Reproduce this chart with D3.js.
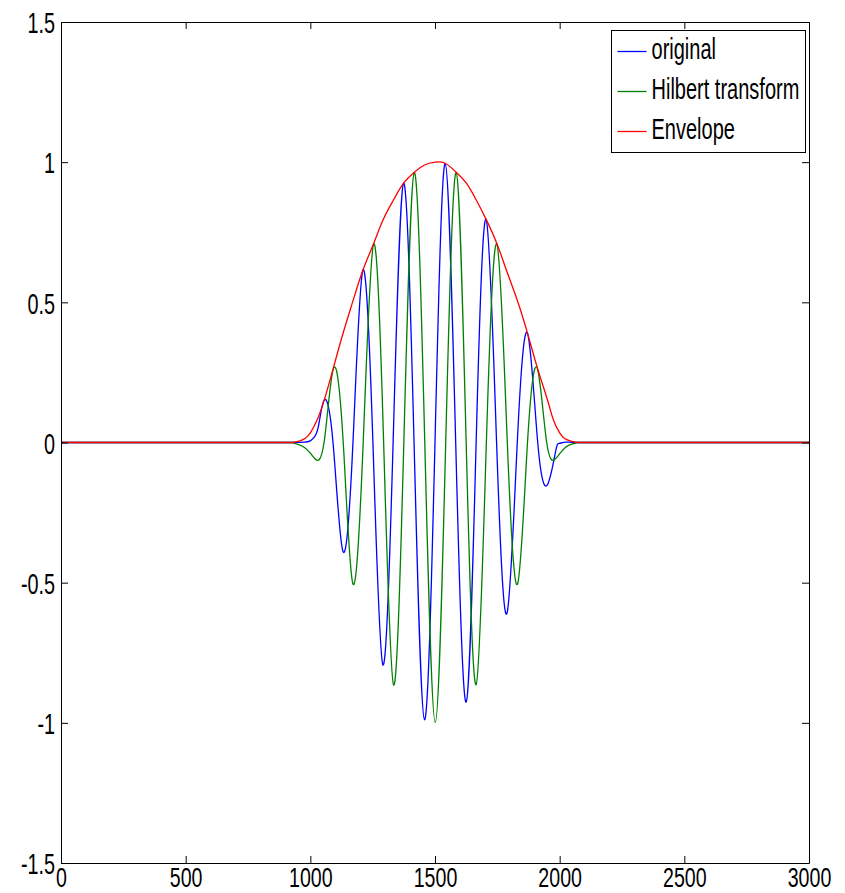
<!DOCTYPE html>
<html>
<head>
<meta charset="utf-8">
<script src="https://cdn.jsdelivr.net/npm/d3@7"></script>
<style>
  body { margin: 0; background: #fff; }
  svg { display: block; }
</style>
</head>
<body>
<svg id="chart" width="845" height="893"></svg>
<script>
// Axis ticks and their labels
const xTicks = [0, 500, 1000, 1500, 2000, 2500, 3000];
const xTickLabels = ["0", "500", "1000", "1500", "2000", "2500", "3000"];
const yTicks = [-1.5, -1, -0.5, 0, 0.5, 1, 1.5];
const yTickLabels = ["-1.5", "-1", "-0.5", "0", "0.5", "1", "1.5"];

const seriesNames = ["original", "Hilbert transform", "Envelope"];
const seriesColors = ["#0000ff", "#008000", "#ff0000"];

// Windowed burst (active part; zero elsewhere): [sample, value]
const original = [
  [930, 0], [975, 0.001], [1000, 0.006], [1015, 0.018], [1033, 0.06],
  [1056, 0.152], [1091, 0], [1131, -0.389], [1171, 0],
  [1211, 0.615], [1251, 0], [1291, -0.793], [1332, 0], [1374, 0.925],
  [1416, 0], [1458, -0.989], [1500, 0], [1541, 0.995], [1583, 0],
  [1625, -0.926], [1665, 0], [1705, 0.796], [1747, 0], [1788, -0.611],
  [1830, 0], [1871, 0.39], [1912, 0], [1950, -0.152],
  [1983, -0.035], [1998, -0.003], [2025, 0.001], [2070, 0]
];

// Its Hilbert transform (active part)
const hilbert = [
  [925, 0], [950, -0.007], [975, -0.017], [1000, -0.038], [1020, -0.059],
  [1055, 0], [1093, 0.265], [1132, 0], [1171, -0.505],
  [1212, 0], [1254, 0.708], [1294, 0], [1334, -0.865], [1375, 0],
  [1417, 0.963], [1459, 0], [1501, -0.998], [1543, 0], [1585, 0.963],
  [1625, 0], [1665, -0.864], [1706, 0], [1748, 0.708], [1790, 0],
  [1831, -0.505], [1871, 0], [1910, 0.265], [1948, 0], [1982, -0.059],
  [2002, -0.038], [2025, -0.016], [2048, -0.006], [2072, 0]
];

// Magnitude of the analytic signal (active part)
const envelope = [
  [925, 0], [955, 0.005], [980, 0.015], [1000, 0.034], [1027, 0.08],
  [1056, 0.152], [1093, 0.268], [1131, 0.389], [1171, 0.505], [1211, 0.615],
  [1254, 0.71], [1291, 0.793], [1334, 0.866], [1374, 0.925], [1417, 0.964],
  [1458, 0.99], [1500, 1.0], [1541, 0.996], [1585, 0.964], [1625, 0.926],
  [1665, 0.866], [1705, 0.796], [1748, 0.71], [1788, 0.611], [1831, 0.505],
  [1871, 0.39], [1910, 0.268], [1950, 0.155], [1975, 0.08], [2000, 0.034],
  [2020, 0.014], [2045, 0.005], [2075, 0]
];

const svg = d3.select("#chart");
const FONT = "'Liberation Sans', Arial, Helvetica, sans-serif";
const squeeze = 0.66;

const x = d3.scaleLinear().domain([0, 3000]).range([61, 809]);
const y = d3.scaleLinear().domain([-1.5, 1.5]).range([863, 22]);

svg.append("defs").append("clipPath").attr("id", "plot-clip")
  .append("rect")
  .attr("x", x.range()[0]).attr("y", y.range()[1])
  .attr("width", x.range()[1] - x.range()[0] + 1)
  .attr("height", y.range()[0] - y.range()[1] + 1);

// Series: smooth spline through the burst, straight zero runs outside it
const plot = svg.append("g").attr("clip-path", "url(#plot-clip)");
const lineNatural = d3.line().x(d => x(d[0])).y(d => y(d[1])).curve(d3.curveNatural);
const lineStraight = d3.line().x(d => x(d[0])).y(d => y(d[1]));

function drawSeries(data, color) {
  const first = data[0], last = data[data.length - 1];
  const dom = x.domain();
  plot.append("path")
    .attr("d", lineStraight([[dom[0], first[1]], first]) + lineStraight([last, [dom[1], last[1]]]))
    .attr("fill", "none").attr("stroke", color).attr("stroke-width", 1.3);
  plot.append("path")
    .attr("d", lineNatural(data))
    .attr("fill", "none").attr("stroke", color).attr("stroke-width", 1.3)
    .attr("stroke-linejoin", "round");
}
drawSeries(original, seriesColors[0]);
drawSeries(hilbert, seriesColors[1]);
drawSeries(envelope, seriesColors[2]);

// Axes box with inward ticks
const tickLen = 7;
const gBottom = svg.append("g").attr("transform", `translate(0,${y.range()[0]})`)
  .call(d3.axisBottom(x).tickValues(xTicks).tickSizeInner(-tickLen).tickSizeOuter(0)
    .tickFormat((d, i) => xTickLabels[i]));
const gTop = svg.append("g").attr("transform", `translate(0,${y.range()[1]})`)
  .call(d3.axisTop(x).tickValues(xTicks).tickSizeInner(-tickLen).tickSizeOuter(0).tickFormat(""));
const gLeft = svg.append("g").attr("transform", `translate(${x.range()[0]},0)`)
  .call(d3.axisLeft(y).tickValues(yTicks).tickSizeInner(-tickLen).tickSizeOuter(0)
    .tickFormat((d, i) => yTickLabels[i]));
const gRight = svg.append("g").attr("transform", `translate(${x.range()[1]},0)`)
  .call(d3.axisRight(y).tickValues(yTicks).tickSizeInner(-tickLen).tickSizeOuter(0).tickFormat(""));

[gBottom, gTop, gLeft, gRight].forEach(g => {
  g.attr("font-family", FONT).attr("font-size", 30);
  g.selectAll("path.domain, line").attr("stroke", "#000").attr("stroke-width", 1);
});
gBottom.attr("font-size", 28).selectAll("text")
  .attr("fill", "#000").attr("y", 887 - y.range()[0]).attr("dy", 0)
  .attr("transform", `scale(0.7,1)`);
gLeft.selectAll("text")
  .attr("fill", "#000").attr("x", -6 / squeeze).attr("dy", "0.36em")
  .attr("transform", `scale(${squeeze},1)`);

// Legend
const legend = svg.append("g").attr("transform", "translate(611.5,30.5)");
legend.append("rect").attr("width", 194).attr("height", 122)
  .attr("fill", "#fff").attr("stroke", "#000").attr("stroke-width", 1);
seriesNames.forEach((name, i) => {
  const row = legend.append("g").attr("transform", `translate(0,${21 + i * 40})`);
  row.append("line").attr("x1", 6).attr("x2", 35).attr("y1", 0).attr("y2", 0)
    .attr("stroke", seriesColors[i]).attr("stroke-width", 1.3);
  row.append("text")
    .attr("transform", `translate(40,7) scale(0.69,1)`)
    .attr("font-family", FONT).attr("font-size", 29).attr("fill", "#000")
    .text(name);
});
</script>
</body>
</html>
